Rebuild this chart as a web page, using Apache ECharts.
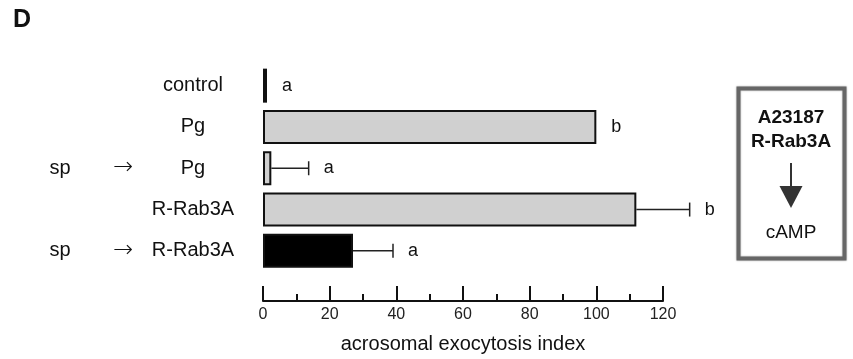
<!DOCTYPE html>
<html>
<head>
<meta charset="utf-8">
<script src="https://cdn.jsdelivr.net/npm/echarts@6/dist/echarts.min.js"></script>
<style>
  html, body { margin: 0; padding: 0; background: #fff; }
  #chart { width: 853px; height: 359px; }
</style>
</head>
<body>
<div id="chart"></div>
<script>
// data
var treatments = ['control', 'Pg', 'Pg', 'R-Rab3A', 'R-Rab3A'];
var pretreat = ['', '', 'sp', '', 'sp'];
var means = [1.2, 100, 2.5, 112, 27];
var sds = [null, null, 11.2, 16, 12];
var letters = ['a', 'b', 'a', 'b', 'a'];

var barFills = ['#b0b0b0', '#d0d0d0', '#d0d0d0', '#d0d0d0', '#000000'];
var FONT = '"Liberation Sans", Arial, sans-serif';

var chart = echarts.init(document.getElementById('chart'));

var option = {
  backgroundColor: '#fff',
  animation: false,
  textStyle: { fontFamily: FONT },
  grid: { left: 263, right: 190, top: 65, bottom: 87, containLabel: false },
  xAxis: {
    type: 'value',
    min: 0,
    max: 120,
    interval: 20,
    offset: 29.5,
    axisLine: { show: true, lineStyle: { color: '#111', width: 2 } },
    axisTick: { show: true, inside: true, length: 15, lineStyle: { color: '#111', width: 2 } },
    minorTick: { show: true, splitNumber: 2, length: 7, lineStyle: { color: '#111', width: 2 } },
    splitLine: { show: false },
    axisLabel: { fontSize: 16, color: '#222', margin: 6, fontFamily: FONT },
    name: 'acrosomal exocytosis index',
    nameLocation: 'middle',
    nameGap: 33,
    nameTextStyle: { fontSize: 20, color: '#111', fontFamily: FONT }
  },
  yAxis: [
    {
      type: 'category',
      data: treatments,
      inverse: true,
      axisLine: { show: false },
      axisTick: { show: false },
      axisLabel: { margin: 70, align: 'center', fontSize: 20, color: '#111', fontFamily: FONT }
    },
    {
      type: 'category',
      data: treatments,
      inverse: true,
      position: 'left',
      axisLine: { show: false },
      axisTick: { show: false },
      axisLabel: {
        margin: 203, align: 'center', fontSize: 20, color: '#111', fontFamily: FONT,
        formatter: function (v, i) { return pretreat[i]; }
      }
    },
    {
      type: 'category',
      data: treatments,
      inverse: true,
      position: 'left',
      axisLine: { show: false },
      axisTick: { show: false },
      axisLabel: {
        margin: 140, align: 'center', fontSize: 24, color: '#111', fontFamily: '"DejaVu Sans"', fontWeight: 'lighter',
        padding: [4, 0, 0, 0],
        formatter: function (v, i) { return pretreat[i] ? '\u2192' : ''; }
      }
    }
  ],
  series: [
    {
      type: 'bar',
      barWidth: 34,
      data: means.map(function (m, i) {
        return { value: m, itemStyle: { color: barFills[i] } };
      }),
      itemStyle: { borderColor: '#111', borderWidth: 2 }
    },
    {
      type: 'custom',
      z: 5,
      data: means.map(function (m, i) { return [m, i, sds[i] == null ? 0 : sds[i]]; }),
      encode: { x: 0, y: 1 },
      renderItem: function (params, api) {
        var i = params.dataIndex;
        var m = api.value(0);
        var sd = api.value(2);
        var row = api.value(1);
        var start = api.coord([m, row]);
        var end = api.coord([m + sd, row]);
        var children = [];
        if (sd > 0) {
          children.push({
            type: 'line',
            shape: { x1: start[0], y1: start[1], x2: end[0], y2: end[1] },
            style: { stroke: '#222', lineWidth: 1.5 }
          });
          children.push({
            type: 'line',
            shape: { x1: end[0], y1: end[1] - 7, x2: end[0], y2: end[1] + 7 },
            style: { stroke: '#222', lineWidth: 1.5 }
          });
        }
        children.push({
          type: 'text',
          style: {
            x: end[0] + 15, y: end[1],
            text: letters[i],
            fill: '#111',
            font: '18px ' + FONT,
            textAlign: 'left',
            textVerticalAlign: 'middle'
          }
        });
        return { type: 'group', children: children };
      }
    }
  ],
  graphic: [
    {
      type: 'text', left: 13, top: 8,
      style: { text: 'D', font: 'bold 25px ' + FONT, fill: '#111' }
    },
    {
      type: 'rect',
      shape: { x: 738.5, y: 88.5, width: 106, height: 170 },
      style: { fill: '#fff', stroke: '#666', lineWidth: 4, shadowBlur: 2, shadowColor: 'rgba(0,0,0,0.35)' }
    },
    {
      type: 'text',
      style: { x: 791, y: 118, text: 'A23187', font: 'bold 19px ' + FONT, fill: '#111', textAlign: 'center', textVerticalAlign: 'middle' }
    },
    {
      type: 'text',
      style: { x: 791, y: 141.5, text: 'R-Rab3A', font: 'bold 19px ' + FONT, fill: '#111', textAlign: 'center', textVerticalAlign: 'middle' }
    },
    {
      type: 'line',
      shape: { x1: 791, y1: 163, x2: 791, y2: 192 },
      style: { stroke: '#333', lineWidth: 2 }
    },
    {
      type: 'polygon',
      shape: { points: [[779.5, 186], [802.5, 186], [791, 208]] },
      style: { fill: '#333' }
    },
    {
      type: 'text',
      style: { x: 791, y: 233, text: 'cAMP', font: '19px ' + FONT, fill: '#111', textAlign: 'center', textVerticalAlign: 'middle' }
    }
  ]
};

chart.setOption(option);
</script>
</body>
</html>
